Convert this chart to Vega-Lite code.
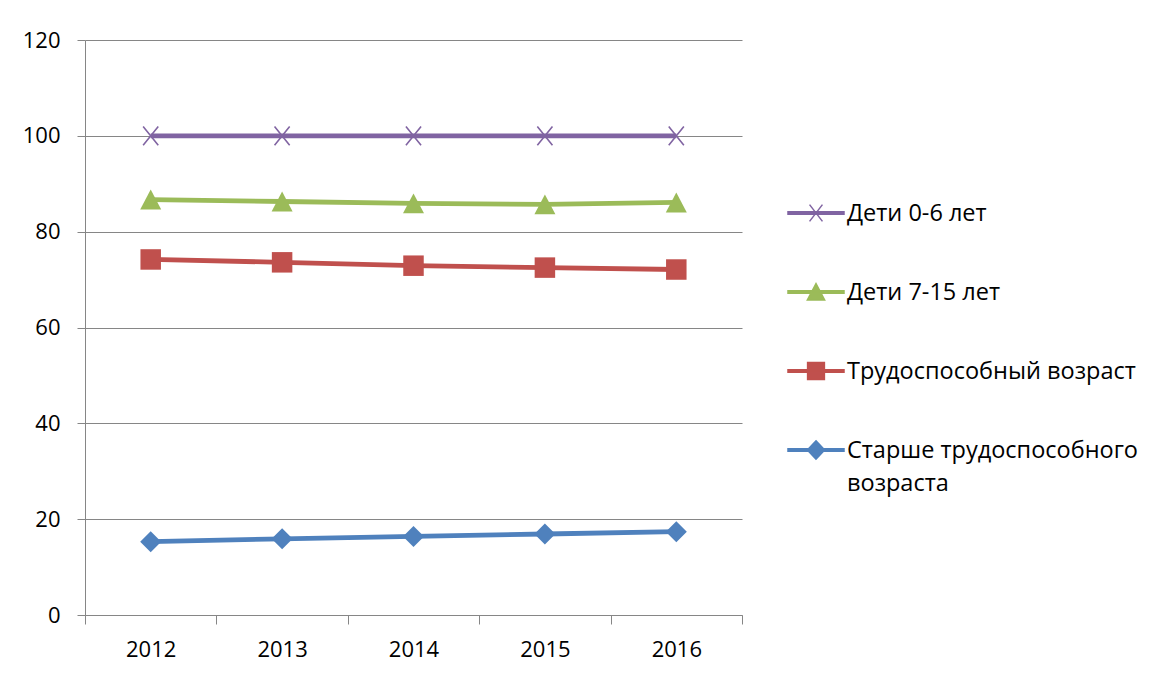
{
  "$schema": "https://vega.github.io/schema/vega-lite/v6.json",
  "width": 657,
  "height": 575,
  "autosize": {"type": "none"},
  "padding": {"left": 85, "top": 40, "right": 408, "bottom": 60},
  "background": "white",
  "config": {"font": "Open Sans", "view": {"stroke": null}},
  "data": {"values": [
    {"year": "2012", "series": "Дети 0-6 лет", "value": 100},
    {"year": "2013", "series": "Дети 0-6 лет", "value": 100},
    {"year": "2014", "series": "Дети 0-6 лет", "value": 100},
    {"year": "2015", "series": "Дети 0-6 лет", "value": 100},
    {"year": "2016", "series": "Дети 0-6 лет", "value": 100},
    {"year": "2012", "series": "Дети 7-15 лет", "value": 86.7},
    {"year": "2013", "series": "Дети 7-15 лет", "value": 86.3},
    {"year": "2014", "series": "Дети 7-15 лет", "value": 85.9},
    {"year": "2015", "series": "Дети 7-15 лет", "value": 85.7},
    {"year": "2016", "series": "Дети 7-15 лет", "value": 86.1},
    {"year": "2012", "series": "Трудоспособный возраст", "value": 74.2},
    {"year": "2013", "series": "Трудоспособный возраст", "value": 73.6},
    {"year": "2014", "series": "Трудоспособный возраст", "value": 72.9},
    {"year": "2015", "series": "Трудоспособный возраст", "value": 72.5},
    {"year": "2016", "series": "Трудоспособный возраст", "value": 72.1},
    {"year": "2012", "series": "Старше трудоспособного возраста", "value": 15.3},
    {"year": "2013", "series": "Старше трудоспособного возраста", "value": 15.9},
    {"year": "2014", "series": "Старше трудоспособного возраста", "value": 16.4},
    {"year": "2015", "series": "Старше трудоспособного возраста", "value": 16.9},
    {"year": "2016", "series": "Старше трудоспособного возраста", "value": 17.4}
  ]},
  "encoding": {
    "x": {
      "field": "year", "type": "ordinal",
      "scale": {"type": "band", "paddingInner": 0, "paddingOuter": 0},
      "axis": {"title": null, "tickBand": "extent", "labelAngle": 0, "grid": false,
        "domainColor": "#868686", "tickColor": "#868686", "tickSize": 9,
        "labelFontSize": 22, "labelColor": "black", "labelPadding": 15}
    },
    "y": {
      "field": "value", "type": "quantitative",
      "scale": {"domain": [0, 120], "nice": false},
      "axis": {"title": null, "values": [0, 20, 40, 60, 80, 100, 120], "grid": true,
        "gridColor": "#868686", "gridOpacity": 1, "domainColor": "#868686", "tickColor": "#868686",
        "tickSize": 8, "labelFontSize": 22, "labelPadding": 17, "labelColor": "black"}
    }
  },
  "layer": [
    {
      "transform": [{"filter": "datum.series == 'Дети 0-6 лет'"}],
      "mark": {"type": "line", "strokeWidth": 4.8, "color": "#8064A2",
        "point": {"shape": "M-0.72,-0.9L0.72,0.9M-0.72,0.9L0.72,-0.9", "filled": false, "strokeWidth": 1.6, "size": 441, "opacity": 1, "color": "#8064A2"}}
    },
    {
      "transform": [{"filter": "datum.series == 'Дети 7-15 лет'"}],
      "mark": {"type": "line", "strokeWidth": 4.8, "color": "#9BBB59",
        "point": {"shape": "M0,-0.95L1,0.95L-1,0.95Z", "filled": true, "size": 441, "opacity": 1, "color": "#9BBB59"}}
    },
    {
      "transform": [{"filter": "datum.series == 'Трудоспособный возраст'"}],
      "mark": {"type": "line", "strokeWidth": 4.8, "color": "#C0504D",
        "point": {"shape": "M-1,-1H1V1H-1Z", "filled": true, "size": 420, "opacity": 1, "color": "#C0504D"}}
    },
    {
      "transform": [{"filter": "datum.series == 'Старше трудоспособного возраста'"}],
      "mark": {"type": "line", "strokeWidth": 4.8, "color": "#4F81BD",
        "point": {"shape": "M0,-1L1,0L0,1L-1,0Z", "filled": true, "size": 441, "opacity": 1, "color": "#4F81BD"}}
    },
    {
      "transform": [{"filter": "false"}],
      "mark": {"type": "point", "filled": true, "size": 3136, "opacity": 1},
      "encoding": {
        "color": {"field": "series", "type": "nominal",
          "scale": {"domain": ["Дети 0-6 лет", "Дети 7-15 лет", "Трудоспособный возраст", "Старше трудоспособного возраста"],
                    "range": ["#8064A2", "#9BBB59", "#C0504D", "#4F81BD"]},
          "legend": {"title": null, "orient": "none", "legendX": 702, "legendY": 144, "symbolSize": 3136,
            "symbolStrokeWidth": 1.5, "symbolOpacity": 1, "labelFontSize": 23.5, "labelColor": "black",
            "labelOffset": 2, "rowPadding": 38, "padding": 0, "labelLimit": 500, "labelBaseline": "alphabetic",
            "labelExpr": "datum.label == 'Старше трудоспособного возраста' ? ['Старше трудоспособного', 'возраста'] : datum.label",
            "encode": {"labels": {"update": {"dy": {"value": 7.5}, "lineHeight": {"value": 33}}},
                       "symbols": {"update": {"stroke": {"scale": "color", "field": "value"}}}}}},
        "shape": {"field": "series", "type": "nominal",
          "scale": {"domain": ["Дети 0-6 лет", "Дети 7-15 лет", "Трудоспособный возраст", "Старше трудоспособного возраста"],
                    "range": [
                      "M-1,-0.045H1V0.045H-1Z M-0.23,-0.3L0.23,0.3M-0.23,0.3L0.23,-0.3",
                      "M-1,-0.045H1V0.045H-1Z M0,-0.3L0.31,0.29L-0.31,0.29Z",
                      "M-1,-0.045H1V0.045H-1Z M-0.3,-0.3H0.3V0.3H-0.3Z",
                      "M-1,-0.045H1V0.045H-1Z M0,-0.33L0.31,0L0,0.33L-0.31,0Z"
                    ]},
          "legend": {"title": null, "orient": "none", "legendX": 702, "legendY": 144, "symbolSize": 3136,
            "symbolStrokeWidth": 1.5, "symbolOpacity": 1, "labelFontSize": 23.5, "labelColor": "black",
            "labelOffset": 2, "rowPadding": 38, "padding": 0, "labelLimit": 500, "labelBaseline": "alphabetic",
            "labelExpr": "datum.label == 'Старше трудоспособного возраста' ? ['Старше трудоспособного', 'возраста'] : datum.label",
            "encode": {"labels": {"update": {"dy": {"value": 7.5}, "lineHeight": {"value": 33}}},
                       "symbols": {"update": {"stroke": {"scale": "color", "field": "value"}}}}}}
      }
    }
  ]
}
